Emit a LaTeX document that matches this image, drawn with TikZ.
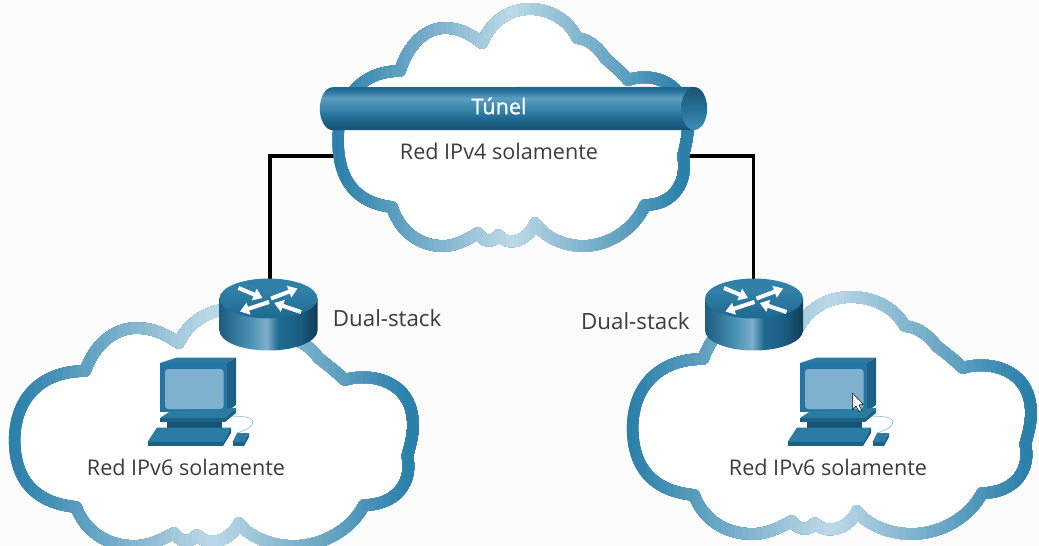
\documentclass[tikz,border=0pt]{standalone}
\usepackage{fontspec}
\setmainfont{Open Sans}
\newfontfamily\tunelfont[FakeBold=1.2]{Open Sans}
\usepackage{xcolor}
\usetikzlibrary{arrows.meta, positioning}

\definecolor{pagebg}{HTML}{FCFCFC}
\definecolor{clouddark}{HTML}{2C81AB}
\definecolor{cloudlight}{HTML}{BDD9E7}
\definecolor{labelgray}{HTML}{3C3C3C}
\definecolor{iconfront}{HTML}{2375A3}
\definecolor{icontop}{HTML}{2A7BA6}
\definecolor{iconside}{HTML}{1C6186}
\definecolor{iconscreen}{HTML}{7FB0CD}
\definecolor{tubea}{HTML}{185070}
\definecolor{tubeb}{HTML}{1F6890}
\definecolor{tubec}{HTML}{3A86AC}
\definecolor{tubed}{HTML}{5C9DC0}
\definecolor{tubee}{HTML}{1F6A92}
\definecolor{capa}{HTML}{428EB4}
\definecolor{capb}{HTML}{267098}
\definecolor{capc}{HTML}{1A5472}
\definecolor{sidea}{HTML}{1C5C80}
\definecolor{sideb}{HTML}{4690B4}
\definecolor{sidec}{HTML}{7EAECA}
\definecolor{sided}{HTML}{1E6A92}
\definecolor{sidee}{HTML}{1A5C80}
\definecolor{sidef}{HTML}{123C54}
\definecolor{topa}{HTML}{1F6890}
\definecolor{topb}{HTML}{3080A8}

\pgfdeclareverticalshading{tubeshade}{100bp}{color(0bp)=(tubea); color(25bp)=(tubea); color(38bp)=(tubeb); color(50bp)=(tubec); color(62bp)=(tubed); color(72bp)=(tubee); color(75bp)=(tubee); color(100bp)=(tubee)}
\pgfdeclareverticalshading{capshade}{100bp}{color(0bp)=(capa); color(25bp)=(capa); color(50bp)=(capb); color(75bp)=(capc); color(100bp)=(capc)}
\pgfdeclarehorizontalshading{routerside}{100bp}{color(0bp)=(sidea); color(25bp)=(sidea); color(40bp)=(sideb); color(49bp)=(sidec); color(55bp)=(sided); color(66bp)=(sidee); color(75bp)=(sidef); color(100bp)=(sidef)}
\pgfdeclareverticalshading{routertop}{100bp}{color(0bp)=(topa); color(25bp)=(topa); color(60bp)=(topb); color(75bp)=(topb); color(100bp)=(topb)}

% cloud outline, lobe by lobe
\newcommand{\cloudshape}[1]{
  \path[#1] (482,43) .. controls (492,20) and (510,9) .. (530,9) .. controls (552,9) and (570,22) .. (577,38)
    .. controls (590,39) and (600,50) .. (605,58) .. controls (613,65) and (621,72) .. (628,80)
    .. controls (650,72) and (688,80) .. (688,125) .. controls (688,137) and (685,148) .. (683,156)
    .. controls (688,180) and (675,205) .. (645,205)
    .. controls (635,228) and (610,246) .. (583,246) .. controls (565,246) and (545,238) .. (535,223)
    .. controls (531,236) and (512,250) .. (498,235)
    .. controls (493,243) and (484,243) .. (478,233)
    .. controls (465,241) and (455,246) .. (443,246) .. controls (420,246) and (400,232) .. (392,207)
    .. controls (356,203) and (338,180) .. (338,140) .. controls (338,100) and (360,71) .. (400,71)
    .. controls (408,45) and (425,28) .. (445,28) .. controls (460,28) and (472,35) .. (482,43)
    -- cycle;
}

\begin{document}
\begin{tikzpicture}[
    x=1pt, y=-1pt,
    netlabel/.style={font=\fontsize{21.6}{26}\selectfont, text=labelgray, inner sep=0pt},
    duallabel/.style={font=\fontsize{22.3}{26}\selectfont, text=labelgray, inner sep=0pt},
    tunnelbox/.style={minimum width=387pt, minimum height=43pt, inner sep=0pt},
    routerbox/.style={minimum width=98pt, minimum height=71pt, inner sep=0pt},
    cloudbox/.style={minimum width=347pt, minimum height=20pt, inner sep=0pt},
    link/.style={draw=black, line width=3.5pt},
    wirecable/.style={draw=iconscreen, line width=0.5pt},
    routerarrow/.style={draw=white, line width=4pt, -{Triangle[length=9pt, width=12pt]}},
    routericon/.pic={
        \path[shading=routerside] (-49,-16) -- (-49,16) arc (180:0:49 and 20) -- (49,-16) -- cycle;
        \path[shading=routertop] (0,-16) ellipse (49 and 20);
        \draw[routerarrow] (-30,-26.5) -- (-6,-16.5);
        \draw[routerarrow] (2.5,-16) -- (29,-26);
        \draw[routerarrow] (0.5,-12.5) -- (-28.5,-3);
        \draw[routerarrow] (32.5,-2.5) -- (5.8,-11.5);
    },
    pcicon/.pic={
        \fill[iconfront] (20,5) rectangle (87,53.5);
        \fill[icontop] (20,5) -- (37,-0.5) -- (96,-0.5) -- (87,5) -- cycle;
        \fill[iconside] (87,5) -- (96,-0.5) -- (96,47) -- (87,53.5) -- cycle;
        \fill[iconscreen, rounded corners=3pt] (25,11) rectangle (83.5,51);
        \fill[icontop] (20,60) -- (29,54) -- (96,50) -- (85,60) -- cycle;
        \fill[iconside] (20,60) rectangle (85,64);
        \fill[iconside] (85,64) -- (85,60) -- (96,50) -- (96,55) -- cycle;
        \fill[iconside!85!black] (27,64) rectangle (82,69.5);
        \fill[icontop] (7.5,84) -- (17,69.5) -- (91,69.5) -- (83,84) -- cycle;
        \fill[iconside] (7.5,84) rectangle (83,88);
        \fill[iconside] (83,88) -- (83,84) -- (91,69.5) -- (91,75) -- cycle;
        \fill[icontop] (92.5,84) -- (97,75) -- (109,75) -- (104,84) -- cycle;
        \fill[iconside] (92.5,84) rectangle (104,88);
        \fill[iconside] (104,88) -- (104,84) -- (109,75) -- (109,79) -- cycle;
        \draw[wirecable] (92,59) .. controls (118,56) and (120,68) .. (97,75);
    },
]

\useasboundingbox (0,0) rectangle (1039,546);
\fill[pagebg] (0,0) rectangle (1039,546);

% Nodes that hold the anchors
\node[cloudbox] (redcuatro) at (513.5,156) {};
\node[routerbox] (routerizq) at (268.5,314.5) {};
\node[routerbox] (routerder) at (754,314.5) {};

% Links
\draw[link] (redcuatro.west) -| ([xshift=1.5pt]routerizq.north);
\draw[link] (redcuatro.east) -| ([xshift=-0.7pt]routerder.north);

% Clouds
\foreach \cloudx/\cloudy/\cloudscale in {0/0/1, -370/300/1.138, 248/288/1.138} {
    \begin{scope}[shift={(\cloudx,\cloudy)}, xscale=\cloudscale]
        \cloudshape{fill=white}
        \foreach \stripx in {326,332,...,698} {
            \pgfmathsetmacro{\stripmix}{min(100,abs(\stripx-508)/172*100)}
            \begin{scope}
                \clip (\stripx,-20) rectangle (710,270);
                \cloudshape{draw=clouddark!\stripmix!cloudlight, line width=11.5pt, line join=round}
            \end{scope}
        }
    \end{scope}
}

% Tunnel
\node[tunnelbox] (tunel) at (513.5,108.5) {};
\path[shading=tubeshade] ([xshift=13pt]tunel.south west) arc (90:270:13 and 21.5)
    -- ([xshift=-13pt]tunel.north east) -- ([xshift=-13pt]tunel.south east) -- cycle;
\path[shading=capshade] ([xshift=-13pt]tunel.east) ellipse (13 and 21.5);
\node[text=white, font=\fontsize{21.6}{26}\tunelfont, inner sep=0pt] (tuneltext) at (499,106) {Túnel};

% Routers and hosts
\pic at (routerizq) {routericon};
\pic at (routerder) {routericon};
\pic at (140,358) {pcicon};
\pic at (780,358) {pcicon};

% Pointer over the right host
\fill[white, draw=black, line width=0.5pt] (852.7,393.3) -- (852.7,409.3) -- (856,406) -- (859,411.7) -- (861.7,410.3) -- (859,405) -- (863.3,404.3) -- cycle;

% Labels
\node[netlabel] (textocuatro) at (499,151) {Red IPv4 solamente};
\node[netlabel] (textoseisizq) at (186,467) {Red IPv6 solamente};
\node[netlabel] (textoseisder) at (828,467) {Red IPv6 solamente};
\node[duallabel, right=15pt of routerizq, yshift=-3.5pt] (dualizq) {Dual-stack};
\node[duallabel, left=15pt of routerder, yshift=-6.5pt] (dualder) {Dual-stack};

\end{tikzpicture}
\end{document}
